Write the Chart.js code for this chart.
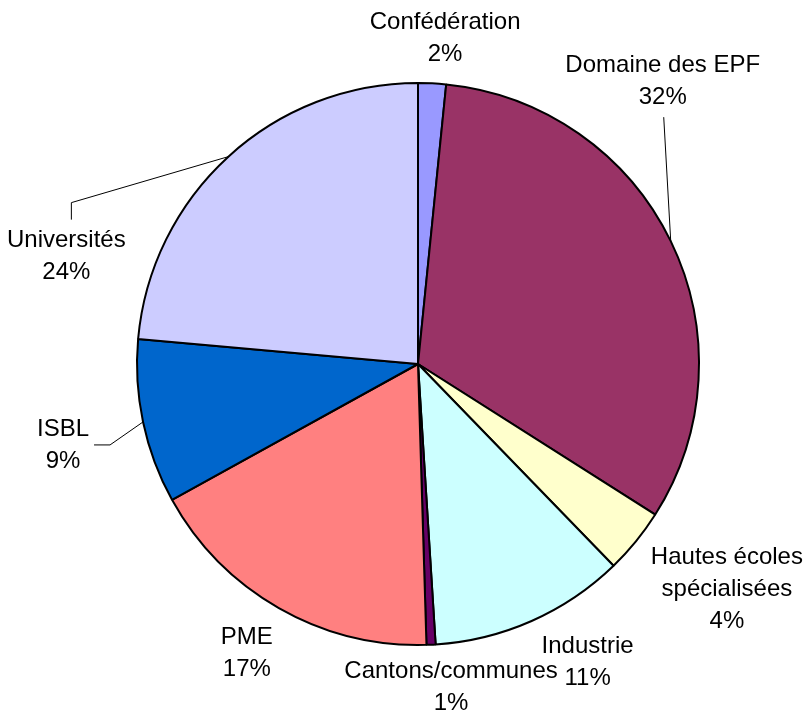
<!DOCTYPE html>
<html>
<head>
<meta charset="utf-8">
<script src="https://cdn.jsdelivr.net/npm/chart.js@4"></script>
<style>
  html, body { margin: 0; padding: 0; background: #fff; }
  #pie { display: block; }
</style>
</head>
<body>
<canvas id="pie" width="811" height="713"></canvas>
<script>
// categories, clockwise from 12 o'clock
const categories = ['Confédération', 'Domaine des EPF', 'Hautes écoles\nspécialisées', 'Industrie',
  'Cantons/communes', 'PME', 'ISBL', 'Universités'];
const shares = [1.6, 32.4, 3.75, 11.25, 0.52, 17.45, 9.45, 23.58];
const sliceColors = ['#9999FF', '#993366', '#FFFFCC', '#CCFFFF', '#660066', '#FF8080', '#0066CC', '#CCCCFF'];

// label block centre, relative to the middle of each slice's outer edge
const labelOffsets = [[13, -45], [-8, -160], [91, 48], [56, 41], [20, 43], [-32, 45], [-80, 23], [-162, 100]];
// leader line points (after the arc point), same reference
const leaders = {
  1: [[-7, -124]],
  6: [[-33, 23], [-49, 23]],
  7: [[-157, 46], [-157, 63]]
};

const total = shares.reduce((a, b) => a + b, 0);

const labelPlugin = {
  id: 'pieLabels',
  afterDatasetsDraw(chart) {
    const ctx = chart.ctx;
    const arcs = chart.getDatasetMeta(0).data;
    ctx.save();
    ctx.font = '24px "Liberation Sans", Arial, sans-serif';
    ctx.fillStyle = '#000';
    ctx.textAlign = 'center';
    ctx.textBaseline = 'middle';
    ctx.strokeStyle = '#000';
    ctx.lineWidth = 1;
    arcs.forEach((arc, i) => {
      const p = arc.getProps(['x', 'y', 'startAngle', 'endAngle', 'outerRadius'], true);
      const mid = (p.startAngle + p.endAngle) / 2;
      const ax = p.x + Math.cos(mid) * p.outerRadius;
      const ay = p.y + Math.sin(mid) * p.outerRadius;

      if (leaders[i]) {
        ctx.beginPath();
        ctx.moveTo(ax, ay);
        leaders[i].forEach(pt => ctx.lineTo(ax + pt[0], ay + pt[1]));
        ctx.stroke();
      }

      const lines = categories[i].split('\n');
      lines.push(Math.round(shares[i] / total * 100) + '%');
      const cx = ax + labelOffsets[i][0];
      const cy = ay + labelOffsets[i][1];
      const lh = 32;
      const top = cy - (lines.length - 1) * lh / 2;
      lines.forEach((t, k) => ctx.fillText(t, cx, top + k * lh));
    });
    ctx.restore();
  }
};

new Chart(document.getElementById('pie').getContext('2d'), {
  type: 'pie',
  data: {
    labels: categories,
    datasets: [{
      data: shares,
      backgroundColor: sliceColors,
      borderColor: '#000',
      borderWidth: 2
    }]
  },
  options: {
    responsive: false,
    animation: false,
    radius: 281,
    layout: { padding: { left: 137, top: 83, right: 112, bottom: 68 } },
    plugins: {
      legend: { display: false },
      tooltip: { enabled: false }
    }
  },
  plugins: [labelPlugin]
});
</script>
</body>
</html>
